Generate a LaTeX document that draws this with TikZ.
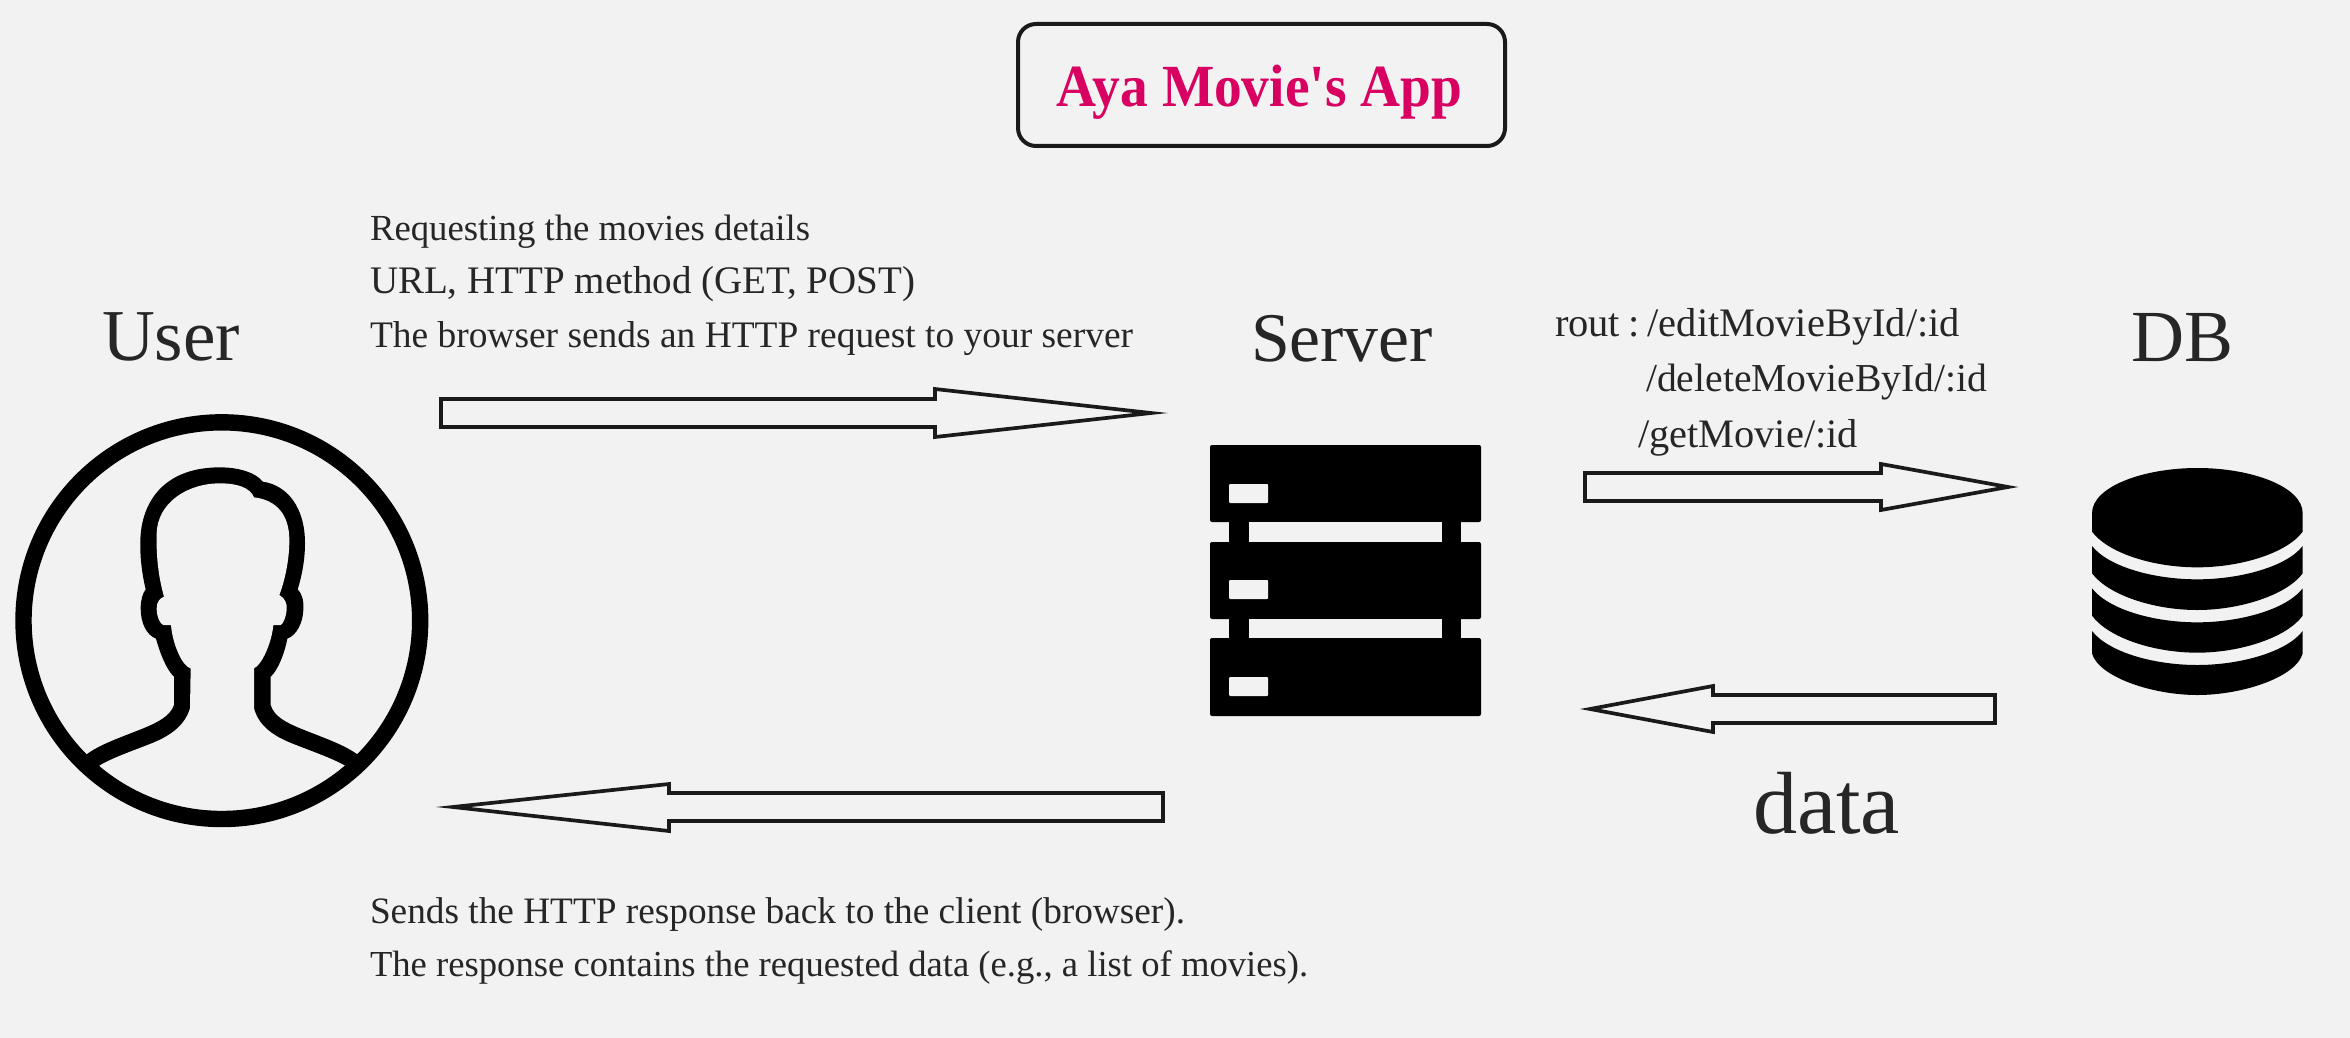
\documentclass[tikz,border=0pt]{standalone}
\usepackage{fontspec}
\usepackage{graphicx}
\setmainfont{Liberation Serif}
\newfontfamily\titlefont{Liberation Serif}
\definecolor{pagebg}{HTML}{F2F2F2}
\definecolor{ink}{HTML}{1A1A1A}
\definecolor{textink}{HTML}{262626}
\definecolor{titlepink}{HTML}{D80060}
\newcommand{\fitted}[2]{\resizebox{#1pt}{!}{#2}}
\tikzset{
  blockarrow/.style={draw=ink,line width=1.85pt,miter limit=12,line join=miter},
  lbl/.style={anchor=base west,inner sep=0pt,outer sep=0pt,text=textink},
  titlebox/.style={draw=ink,line width=2pt,rounded corners=9pt,minimum width=243.5pt,minimum height=61pt,
    inner sep=0pt,text height=30pt,text depth=8pt,text=titlepink,font=\titlefont\bfseries},
}
\begin{document}
\begin{tikzpicture}[x=0.5pt,y=-0.5pt]
\useasboundingbox (0,0) rectangle (2350,1038);
\fill[pagebg] (0,0) rectangle (2350,1038);

% title
\node[titlebox] (title) at (1261.5,85) {\kern-2pt\scalebox{1}[1.08]{\fitted{202.5}{Aya Movie's App}}};

% headings
\node[lbl] (user) at (102,360) {\fitted{69}{User}};
\node[lbl] (server) at (1251,361) {\fitted{91}{Server}};
\node[lbl] (db) at (2131,361) {\fitted{51}{DB}};
\node[lbl] (data) at (1753,833) {\fitted{73.5}{data}};

% request text
\node[lbl] (req1) at (370,240) {\fitted{220}{Requesting the movies details}};
\node[lbl] (req2) at (370,293) {\fitted{272.5}{URL, HTTP method (GET, POST)}};
\node[lbl] (req3) at (370,347) {\fitted{381.5}{The browser sends an HTTP request to your server}};

% routes
\node[lbl] (rt1) at (1555,336) {\fitted{202.5}{rout\hspace{0.2em}:\hspace{0.2em}/editMovieById/:id}};
\node[lbl] (rt2) at (1646,391) {\fitted{170.5}{/deleteMovieById/:id}};
\node[lbl] (rt3) at (1638,447) {\fitted{110}{/getMovie/:id}};

% response text
\node[lbl] (res1) at (370,923) {\fitted{407.5}{Sends the HTTP response back to the client (browser).}};
\node[lbl] (res2) at (370,976) {\fitted{469}{The response contains the requested data (e.g., a list of movies).}};

% block arrows
\draw[blockarrow] (441,399) -- (935,399) -- (935,389) -- (1151,413) -- (935,437) -- (935,427) -- (441,427) -- cycle;
\draw[blockarrow] (1163,793) -- (669,793) -- (669,784) -- (453,807) -- (669,831) -- (669,821) -- (1163,821) -- cycle;
\draw[blockarrow] (1585,473) -- (1881,473) -- (1881,464) -- (2008,487) -- (1881,510) -- (1881,501) -- (1585,501) -- cycle;
\draw[blockarrow] (1995,695) -- (1713,695) -- (1713,686) -- (1590,709) -- (1713,732) -- (1713,723) -- (1995,723) -- cycle;

% user icon
\begin{scope}[shift={(0,400)},x=0.166667pt,y=-0.166667pt]
  \begin{scope}
    \clip (665,660) circle[radius=600];
    \fill[black] (660,202) .. controls (720,202) and (770,220) .. (788,245)
      .. controls (860,255) and (915,320) .. (915,430)
      .. controls (915,480) and (905,530) .. (893,568)
      .. controls (905,580) and (912,600) .. (910,630)
      .. controls (908,670) and (890,705) .. (862,716)
      .. controls (855,755) and (835,810) .. (812,830)
      -- (812,915)
      .. controls (822,950) and (860,968) .. (900,985)
      .. controls (970,1013) and (1030,1033) .. (1072,1063)
      -- (1100,1150) -- (240,1150) -- (260,1063)
      .. controls (300,1033) and (360,1013) .. (430,985)
      .. controls (470,968) and (510,950) .. (522,915)
      -- (522,830)
      .. controls (500,810) and (480,760) .. (468,716)
      .. controls (440,705) and (422,670) .. (422,625)
      .. controls (422,600) and (428,580) .. (437,568)
      .. controls (428,530) and (420,480) .. (421,430)
      .. controls (420,320) and (480,202) .. (660,202) -- cycle;
    \fill[pagebg] (660,250) .. controls (710,250) and (750,262) .. (762,292)
      .. controls (830,300) and (868,345) .. (868,420)
      .. controls (868,480) and (855,540) .. (838,585)
      .. controls (855,595) and (862,610) .. (860,630)
      .. controls (858,650) and (850,672) .. (842,675)
      -- (820,675)
      .. controls (815,730) and (785,795) .. (762,805)
      -- (762,925)
      .. controls (775,975) and (815,1005) .. (870,1028)
      .. controls (940,1056) and (990,1072) .. (1035,1097)
      -- (1040,1300) -- (295,1300) -- (298,1097)
      .. controls (340,1072) and (390,1056) .. (460,1028)
      .. controls (515,1005) and (555,975) .. (570,925)
      -- (572,805)
      .. controls (548,800) and (518,735) .. (513,675)
      -- (490,675)
      .. controls (480,672) and (470,650) .. (470,625)
      .. controls (470,605) and (480,595) .. (492,590)
      .. controls (478,540) and (468,480) .. (470,400)
      .. controls (472,310) and (560,250) .. (660,250) -- cycle;
  \end{scope}
  \draw[black,line width=8.2pt] (665.5,662) circle[radius=595];
\end{scope}

% server icon
\fill[black,rounded corners=1pt] (1210,445) rectangle (1481,522);
\fill[black,rounded corners=1pt] (1210,542) rectangle (1481,619);
\fill[black,rounded corners=1pt] (1210,638) rectangle (1481,716);
\fill[black] (1229,520) rectangle (1249,644);
\fill[black] (1442,520) rectangle (1461,644);
\fill[pagebg,rounded corners=0.5pt] (1229,484) rectangle (1268,503);
\fill[pagebg,rounded corners=0.5pt] (1229,580) rectangle (1268,599);
\fill[pagebg,rounded corners=0.5pt] (1229,677) rectangle (1268,696);
\fill[pagebg] (1249,522) rectangle (1442,542);
\fill[pagebg] (1249,619) rectangle (1442,638);

% database icon
\begin{scope}[shift={(2070,450)},x=0.166667pt,y=-0.166667pt]
  \fill[black] (66,190) .. controls (66,110) and (220,54) .. (382,54)
    .. controls (545,54) and (698,110) .. (698,190) -- (698,245)
    .. controls (650,310) and (510,352) .. (382,352)
    .. controls (250,352) and (115,310) .. (66,245) -- cycle;
  \fill[black] (66,288) .. controls (115,350) and (250,388) .. (382,388)
    .. controls (510,388) and (650,350) .. (698,288) -- (698,370)
    .. controls (650,435) and (510,480) .. (382,480)
    .. controls (250,480) and (115,435) .. (66,370) -- cycle;
  \fill[black] (66,415) .. controls (115,478) and (250,517) .. (382,517)
    .. controls (510,517) and (650,478) .. (698,415) -- (698,497)
    .. controls (650,563) and (510,608) .. (382,608)
    .. controls (250,608) and (115,563) .. (66,497) -- cycle;
  \fill[black] (66,543) .. controls (115,606) and (250,645) .. (382,645)
    .. controls (510,645) and (650,606) .. (698,543) -- (698,610)
    .. controls (680,680) and (520,735) .. (382,735)
    .. controls (245,735) and (85,680) .. (66,610) -- cycle;
\end{scope}
\end{tikzpicture}
\end{document}
